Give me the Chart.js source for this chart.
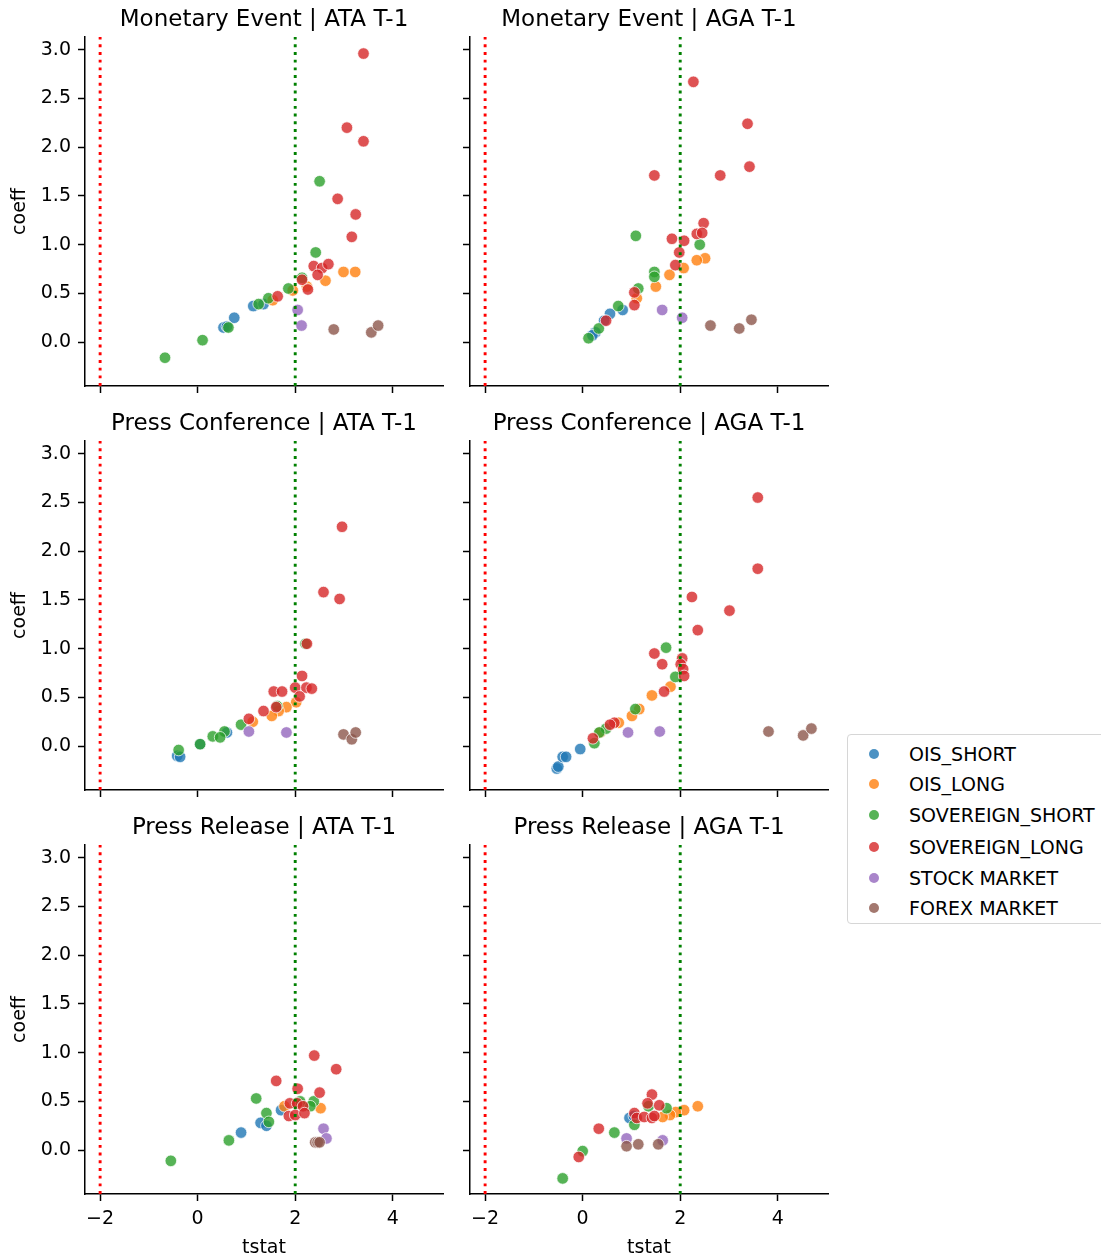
<!DOCTYPE html>
<html>
<head>
<meta charset="utf-8">
<script src="https://cdn.jsdelivr.net/npm/chart.js@4.4.1/dist/chart.umd.min.js"></script>
<style>
  body { margin: 0; background: #fff; overflow: hidden; width: 1101px; height: 1257px; position: relative; font-family: 'DejaVu Sans', sans-serif; }
  canvas { position: absolute; }
  #legend { position: absolute; left: 847px; top: 734px; width: 280px; height: 190px; border: 1px solid #d6d6d6; border-radius: 4px; box-sizing: border-box; background: #fff; }
  .item { position: absolute; left: 0; height: 24px; line-height: 24px; font-size: 19px; color: #000; white-space: nowrap; }
  .dot { position: absolute; left: 21px; top: 7px; width: 10px; height: 10px; border-radius: 50%; }
  .lbl { position: absolute; left: 61px; top: 0; }
</style>
</head>
<body>
<div id="legend"></div>
<script>
// --- Data (tstat, coeff) per facet, one list per category ---
const categories = ['OIS_SHORT', 'OIS_LONG', 'SOVEREIGN_SHORT', 'SOVEREIGN_LONG', 'STOCK MARKET', 'FOREX MARKET'];
const colors = ['31,119,180', '255,127,14', '44,160,44', '214,39,40', '148,103,189', '140,86,75'];
const panelTitles = [
    'Monetary Event | ATA T-1', 'Monetary Event | AGA T-1',
    'Press Conference | ATA T-1', 'Press Conference | AGA T-1',
    'Press Release | ATA T-1', 'Press Release | AGA T-1'
];
const xTicks = [-2, 0, 2, 4];
const yTicks = [0, 0.5, 1, 1.5, 2, 2.5, 3];
const refValues = [-2, 2];
const refColors = ['#ff0000', '#008000'];

const monetaryAta = [
    [[0.75,0.25],[0.53,0.15],[0.60,0.16],[1.14,0.37],[1.35,0.39]],
    [[2.99,0.72],[3.23,0.72],[2.62,0.63],[2.24,0.57],[1.95,0.53],[1.54,0.43]],
    [[2.50,1.65],[2.42,0.92],[2.14,0.66],[1.86,0.55],[1.45,0.45],[1.25,0.39],[0.63,0.15],[0.10,0.02],[-0.67,-0.16]],
    [[3.40,2.96],[3.06,2.20],[3.40,2.06],[2.87,1.47],[3.24,1.31],[3.16,1.08],[2.38,0.78],[2.55,0.76],[2.68,0.80],[2.46,0.69],[2.14,0.64],[2.26,0.54],[1.64,0.47]],
    [[2.05,0.33],[2.13,0.17]],
    [[2.79,0.13],[3.56,0.10],[3.70,0.17]]
];
const monetaryAga = [
    [[0.82,0.33],[0.56,0.29],[0.26,0.10],[0.44,0.22],[0.20,0.07]],
    [[2.51,0.86],[2.34,0.84],[2.07,0.76],[1.78,0.69],[1.50,0.57],[1.11,0.45]],
    [[1.09,1.09],[2.40,1.00],[1.47,0.72],[1.47,0.67],[1.14,0.55],[0.73,0.37],[0.33,0.14],[0.12,0.04]],
    [[2.27,2.67],[3.38,2.24],[3.42,1.80],[1.47,1.71],[2.82,1.71],[2.48,1.22],[2.34,1.11],[2.45,1.12],[1.83,1.06],[2.08,1.04],[1.98,0.92],[1.90,0.79],[1.06,0.51],[1.06,0.38],[0.48,0.22]],
    [[1.63,0.33],[2.04,0.25]],
    [[2.62,0.17],[3.21,0.14],[3.46,0.23]]
];
const conferenceAta = [
    [[-0.42,-0.10],[-0.36,-0.11],[0.60,0.14],[0.05,0.02]],
    [[2.02,0.45],[1.82,0.40],[1.66,0.36],[1.52,0.31],[1.13,0.25]],
    [[2.21,1.05],[0.55,0.15],[0.31,0.10],[0.46,0.09],[0.05,0.02],[-0.39,-0.04],[0.89,0.22],[1.63,0.41]],
    [[2.96,2.25],[2.58,1.58],[2.91,1.51],[2.24,1.05],[2.14,0.72],[2.00,0.60],[2.23,0.60],[2.34,0.59],[2.09,0.51],[1.56,0.56],[1.73,0.56],[1.61,0.40],[1.35,0.36],[1.05,0.28]],
    [[1.05,0.15],[1.82,0.14]],
    [[2.99,0.12],[3.16,0.07],[3.24,0.14]]
];
const conferenceAga = [
    [[-0.53,-0.23],[-0.50,-0.21],[-0.41,-0.11],[-0.34,-0.11],[-0.05,-0.03]],
    [[1.80,0.61],[1.42,0.52],[1.16,0.38],[1.01,0.31],[0.74,0.24],[0.36,0.14]],
    [[1.71,1.01],[1.90,0.71],[1.08,0.38],[0.48,0.18],[0.34,0.14],[0.24,0.03]],
    [[3.59,2.55],[3.59,1.82],[2.24,1.53],[3.01,1.39],[2.36,1.19],[1.47,0.95],[1.63,0.84],[2.04,0.90],[2.01,0.84],[2.06,0.79],[2.08,0.72],[1.67,0.56],[0.65,0.24],[0.56,0.22],[0.21,0.08]],
    [[0.93,0.14],[1.58,0.15]],
    [[3.81,0.15],[4.52,0.11],[4.69,0.18]]
];
const releaseAta = [
    [[0.89,0.18],[1.29,0.28],[1.41,0.25],[1.71,0.41],[2.05,0.48]],
    [[2.52,0.43],[1.78,0.45],[2.10,0.47]],
    [[1.20,0.53],[2.38,0.50],[2.31,0.45],[1.41,0.38],[1.46,0.29],[0.64,0.10],[-0.55,-0.11],[2.10,0.50]],
    [[2.39,0.97],[2.84,0.83],[1.61,0.71],[2.05,0.63],[2.50,0.59],[1.89,0.48],[2.04,0.48],[2.16,0.45],[1.87,0.35],[2.00,0.36],[2.19,0.38]],
    [[2.58,0.22],[2.64,0.12]],
    [[2.41,0.08],[2.46,0.08],[2.50,0.08]]
];
const releaseAga = [
    [[0.96,0.33],[1.05,0.35]],
    [[2.36,0.45],[2.08,0.41],[1.91,0.39],[1.79,0.36],[1.64,0.34]],
    [[1.72,0.43],[1.06,0.26],[0.65,0.18],[0.00,-0.01],[-0.41,-0.29],[1.35,0.45]],
    [[1.42,0.57],[1.33,0.48],[1.57,0.46],[1.06,0.38],[1.11,0.33],[1.26,0.34],[1.42,0.33],[1.47,0.35],[0.33,0.22],[-0.08,-0.07]],
    [[0.90,0.12],[1.64,0.10]],
    [[0.90,0.04],[1.14,0.06],[1.55,0.06]]
];
const panelData = [monetaryAta, monetaryAga, conferenceAta, conferenceAga, releaseAta, releaseAga];

// --- Layout ---
const FONT = "'DejaVu Sans', sans-serif";
const colLeft = [85, 470];
const rowTop = [37, 441, 845];
const plotW = 358, plotH = 349;
const marginL = 85, marginR = 12, titleH = 40;

Chart.defaults.font.family = FONT;

// dotted reference lines at tstat = -2 and 2
const refLines = {
    id: 'refLines',
    afterDatasetsDraw(chart) {
        const { ctx, chartArea, scales } = chart;
        ctx.save();
        ctx.lineWidth = 2.9;
        ctx.setLineDash([2.9, 4.8]);
        ctx.lineCap = 'butt';
        refValues.forEach((v, i) => {
            const px = scales.x.getPixelForValue(v);
            ctx.strokeStyle = refColors[i];
            ctx.beginPath();
            ctx.moveTo(px, chartArea.bottom);
            ctx.lineTo(px, chartArea.top);
            ctx.stroke();
        });
        ctx.restore();
    }
};

const fmtX = v => (v < 0 ? '\u2212' + Math.abs(v) : String(v));

function makePanel(idx) {
    const row = Math.floor(idx / 2), col = idx % 2;
    const bottomRow = row === 2, leftCol = col === 0;
    const xh = bottomRow ? 70 : 15;

    const canvas = document.createElement('canvas');
    canvas.width = marginL + plotW + marginR;
    canvas.height = titleH + plotH + xh;
    canvas.style.left = (colLeft[col] - marginL) + 'px';
    canvas.style.top = (rowTop[row] - titleH) + 'px';
    document.body.insertBefore(canvas, document.getElementById('legend'));

    const datasets = categories.map((name, i) => ({
        label: name,
        data: panelData[idx][i].map(p => ({ x: p[0], y: p[1] })),
        backgroundColor: 'rgba(' + colors[i] + ',0.8)',
        borderColor: 'rgba(255,255,255,0.8)',
        borderWidth: 0.9,
        pointRadius: 5.8,
        order: categories.length - i
    }));

    new Chart(canvas.getContext('2d'), {
        type: 'scatter',
        data: { datasets },
        plugins: [refLines],
        options: {
            responsive: false,
            animation: false,
            events: [],
            layout: { padding: { left: 0, top: 0, bottom: 0, right: marginR }, autoPadding: false },
            plugins: {
                legend: { display: false },
                tooltip: { enabled: false },
                title: {
                    display: true, fullSize: false, text: panelTitles[idx], color: '#000',
                    font: { family: FONT, size: 23, weight: 'normal', lineHeight: 1.2 },
                    padding: { top: 9.5, bottom: 2.9 }
                }
            },
            scales: {
                x: {
                    type: 'linear', min: -2.31, max: 5.03,
                    afterBuildTicks: s => { s.ticks = xTicks.map(v => ({ value: v })); },
                    afterFit: s => { s.height = xh; s.paddingLeft = 0; s.paddingRight = 0; },
                    grid: { drawOnChartArea: false, drawTicks: true, tickLength: 7, tickWidth: 1.5, tickColor: '#000' },
                    border: { display: true, color: '#000', width: 1.5 },
                    ticks: {
                        padding: 7, color: '#000', maxRotation: 0, autoSkip: false,
                        font: { family: FONT, size: 19 },
                        callback: v => (bottomRow ? fmtX(v) : '')
                    },
                    title: {
                        display: bottomRow, text: 'tstat', color: '#000',
                        font: { family: FONT, size: 19, lineHeight: 1.2 },
                        padding: { top: 0, bottom: 4.6 }
                    }
                },
                y: {
                    type: 'linear', min: -0.45, max: 3.13,
                    afterBuildTicks: s => { s.ticks = yTicks.map(v => ({ value: v })); },
                    afterFit: s => { s.width = marginL; s.paddingTop = 0; s.paddingBottom = 0; },
                    grid: { drawOnChartArea: false, drawTicks: true, tickLength: 7, tickWidth: 1.5, tickColor: '#000' },
                    border: { display: true, color: '#000', width: 1.5 },
                    ticks: {
                        padding: 7, color: '#000', autoSkip: false,
                        font: { family: FONT, size: 19 },
                        callback: v => (leftCol ? v.toFixed(1) : '')
                    },
                    title: {
                        display: leftCol, text: 'coeff', color: '#000',
                        font: { family: FONT, size: 19, lineHeight: 1.2 },
                        padding: { top: 8.6, bottom: 0 }
                    }
                }
            }
        }
    });
}

panelTitles.forEach((t, i) => makePanel(i));

// --- Legend ---
const legendEl = document.getElementById('legend');
const legendCenters = [19.3, 49.3, 80.3, 111.7, 142.7, 172.7];
categories.forEach((name, i) => {
    const item = document.createElement('div');
    item.className = 'item';
    item.style.top = (legendCenters[i] - 12) + 'px';
    item.innerHTML = '<span class="dot" style="background:rgba(' + colors[i] + ',0.8)"></span><span class="lbl">' + name + '</span>';
    legendEl.appendChild(item);
});
</script>
</body>
</html>
